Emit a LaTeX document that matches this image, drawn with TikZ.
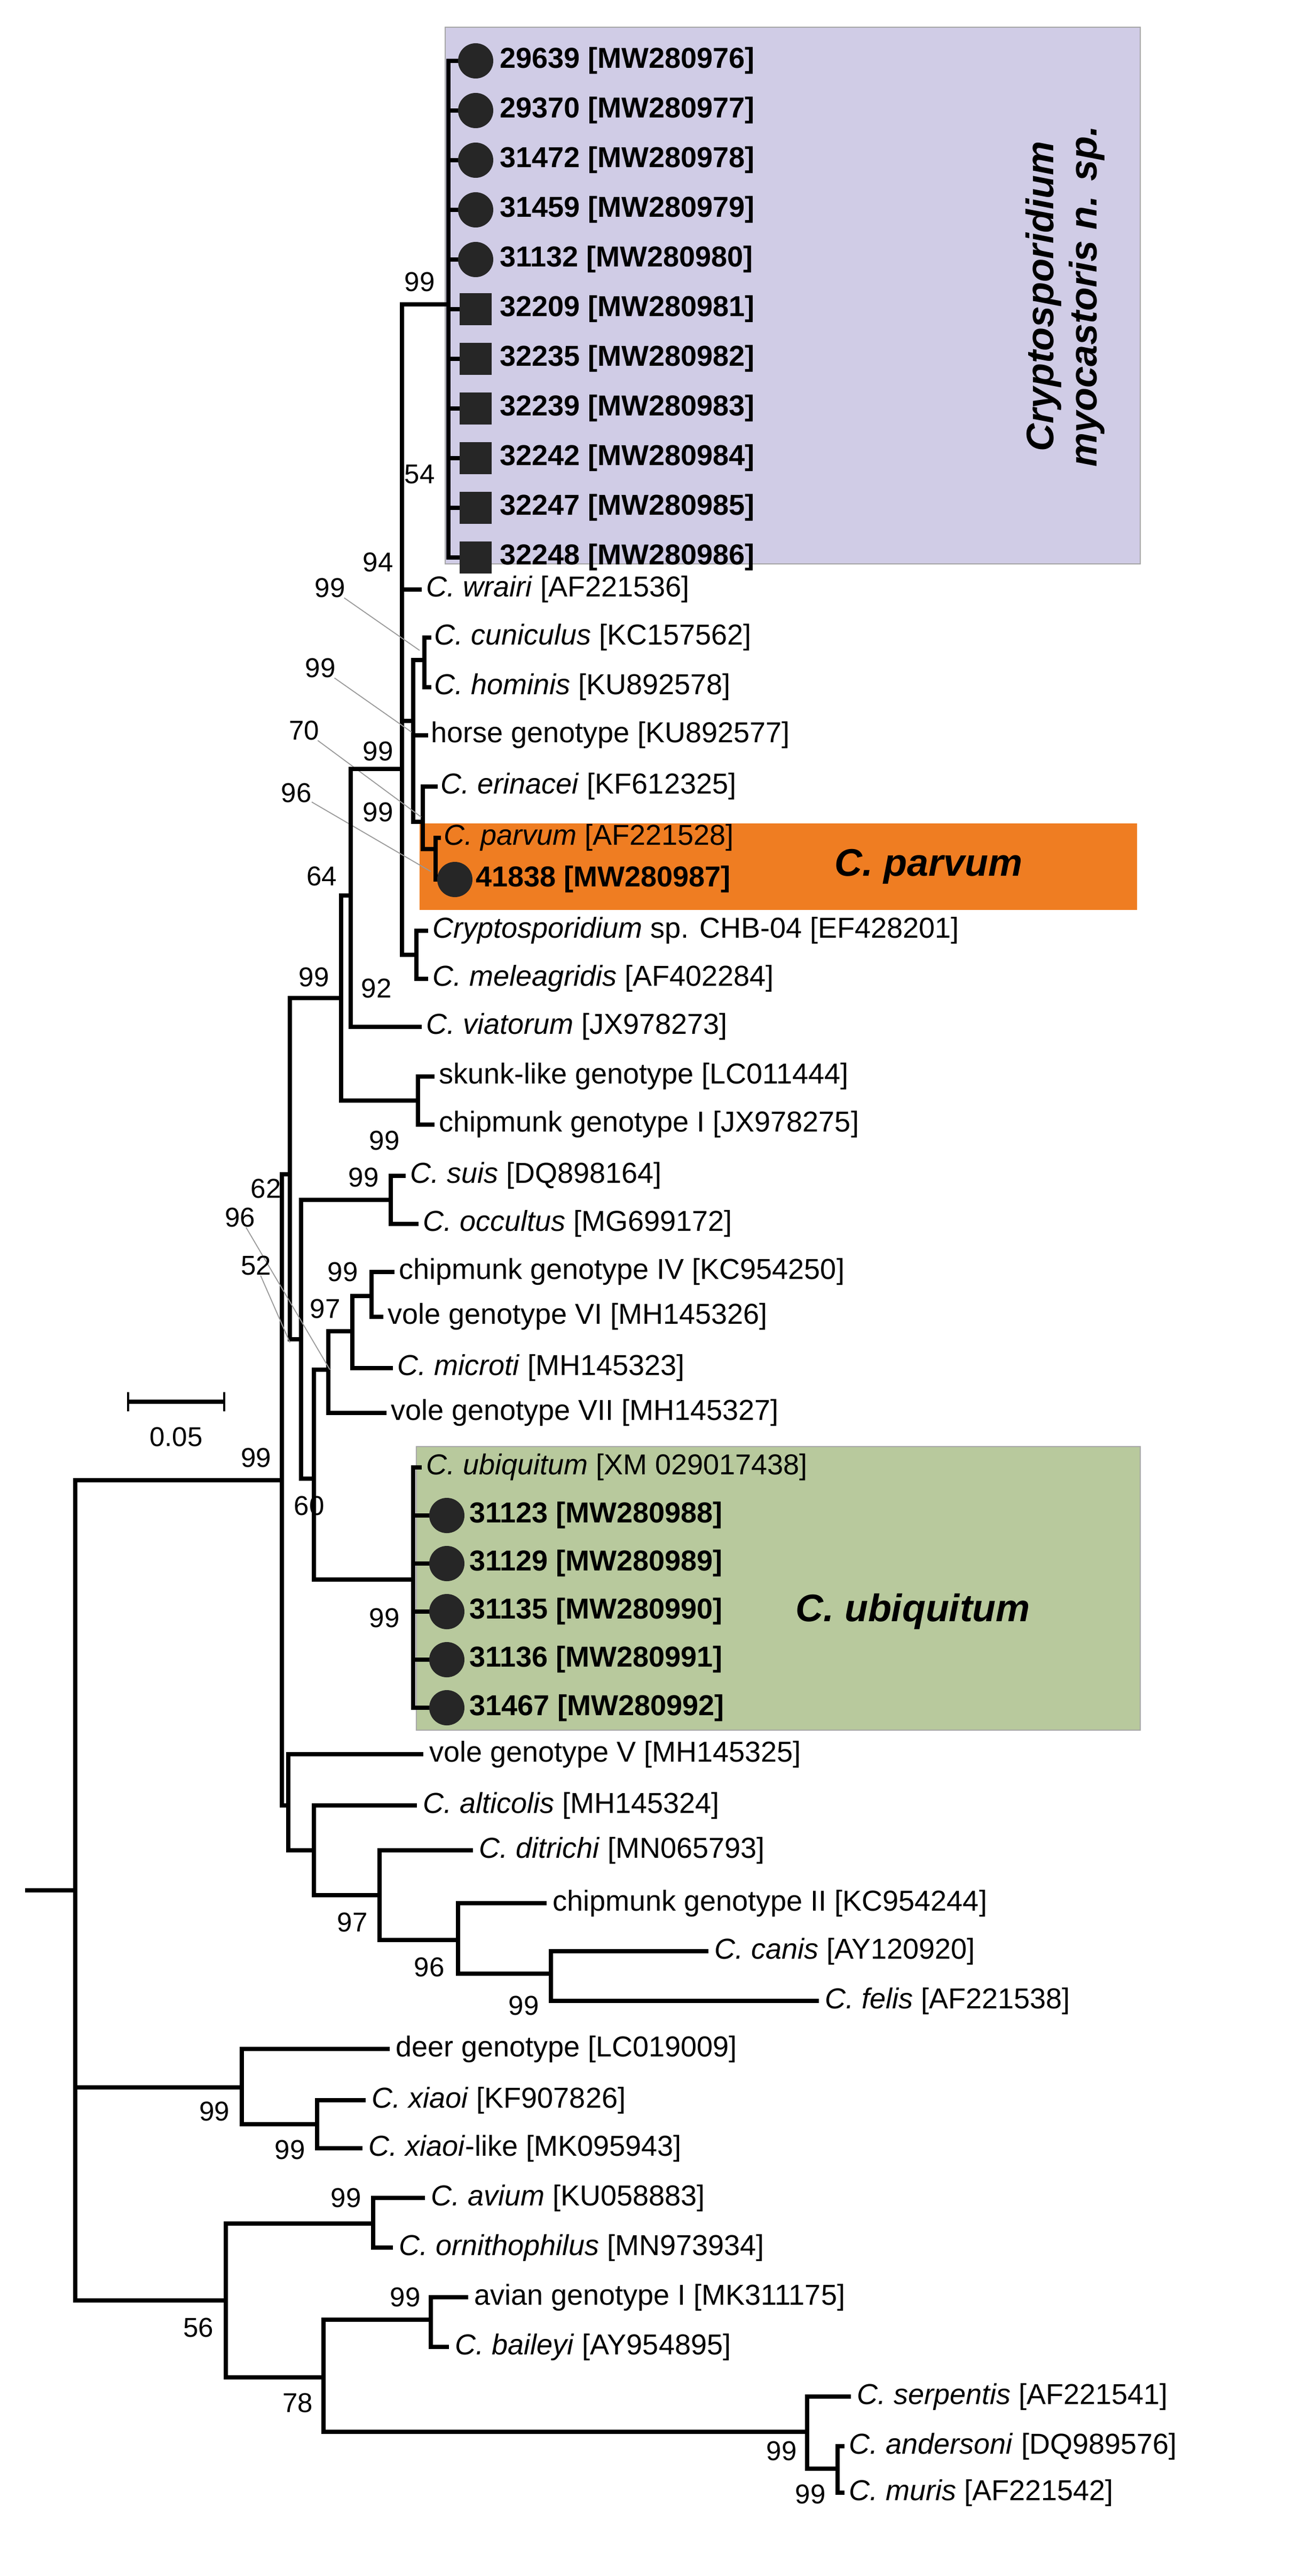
\documentclass[tikz,border=0pt]{standalone}
\usepackage{fontspec}
\setmainfont{Liberation Sans}
\begin{document}
\begin{tikzpicture}[x=1pt,y=-1pt,
  br/.style={line width=2.4pt,line cap=rect},
  lbl/.style={anchor=west,inner sep=0pt,font=\fontsize{18}{20}\selectfont},
  bs/.style={inner sep=0pt,font=\fontsize{17}{19}\selectfont},
  ld/.style={draw=gray!80,line width=0.6pt},
  dot/.style={circle,fill=black!85,minimum size=22pt,inner sep=0pt},
  sq/.style={rectangle,fill=black!85,minimum size=20pt,inner sep=0pt}]
\useasboundingbox (0,0) rectangle (808,1608);
% boxes
\fill[draw=gray!70,fill={rgb,255:red,208;green,204;blue,230}] (278,17) rectangle (712,352);
\fill[fill={rgb,255:red,239;green,125;blue,34}] (262,514) rectangle (710,568);
\fill[draw=gray!70,fill={rgb,255:red,184;green,201;blue,157}] (260,903) rectangle (712,1080);
\node[rotate=90,align=center,font=\fontsize{24}{27}\selectfont\bfseries\itshape] (myo) at (665,185) {Cryptosporidium\\myocastoris n. sp.};
\node[font=\fontsize{24}{27}\selectfont\bfseries\itshape] (cp) at (580,541) {C. parvum};
\node[font=\fontsize{24}{27}\selectfont\bfseries\itshape] (cu) at (570,1006) {C. ubiquitum};
% myocastoris clade
\draw[br] (280,38) -- (280,348);
\foreach \y/\t/\m in {38/29639 [MW280976]/dot,69/29370 [MW280977]/dot,100/31472 [MW280978]/dot,131/31459 [MW280979]/dot,162/31132 [MW280980]/dot,193/32209 [MW280981]/sq,224/32235 [MW280982]/sq,255/32239 [MW280983]/sq,286/32242 [MW280984]/sq,317/32247 [MW280985]/sq,348/32248 [MW280986]/sq}{
  \draw[br] (280,\y) -- (286,\y);
  \node[\m] at (297,\y) {};
  \node[lbl,font=\fontsize{18}{20}\selectfont\bfseries] at (312,\y) {\t};}
\draw[br] (251,190) -- (280,190);
\node[bs] at (262,176) {99};
\draw[br] (251,190) -- (251,596);
\node[bs] at (262,296) {54};
\node[bs] at (236,351) {94};
\draw[br] (251,368) -- (262,368) node[lbl,right=3pt] {\textit{C. wrairi} [AF221536]};
% inner node N
\draw[br] (251,450) -- (258,450);
\draw[br] (258,412) -- (258,513);
\draw[br] (258,412) -- (265,412);
\draw[br] (265,398) -- (265,429);
\draw[br] (265,398) -- (268,398) node[lbl,right=2pt] {\textit{C. cuniculus} [KC157562]};
\draw[br] (265,429) -- (268,429) node[lbl,right=2pt] {\textit{C. hominis} [KU892578]};
\draw[br] (258,459) -- (266,459) node[lbl,right=2pt] {horse genotype [KU892577]};
\draw[br] (258,513) -- (264,513);
\draw[br] (264,491) -- (264,530);
\draw[br] (264,491) -- (272,491) node[lbl,right=2pt] {\textit{C. erinacei} [KF612325]};
\draw[br] (264,530) -- (272,530);
\draw[br] (272,523) -- (272,549);
\draw[br] (272,523) -- (274,523) node[lbl,right=2pt] {\textit{C. parvum} [AF221528]};
\draw[br] (272,549) -- (276,549);
\node[dot] at (284,549) {};
\node[lbl,font=\fontsize{18}{20}\selectfont\bfseries] at (297,549) {41838 [MW280987]};
\node[bs] at (236,469) {99};
\node[bs] at (236,507) {99};
% leader labels
\node[bs] (l1) at (206,367) {99}; \draw[ld] (l1) -- (262,406);
\node[bs] (l2) at (200,417) {99}; \draw[ld] (l2) -- (257,457);
\node[bs] (l3) at (190,456) {70}; \draw[ld] (l3) -- (263,510);
\node[bs] (l4) at (185,495) {96}; \draw[ld] (l4) -- (269,544);
% meleagridis node
\draw[br] (251,596) -- (260,596);
\draw[br] (260,581) -- (260,611);
\draw[br] (260,581) -- (266,581) node[lbl,right=3pt] {\textit{Cryptosporidium} sp. CHB-04 [EF428201]};
\draw[br] (260,611) -- (266,611) node[lbl,right=3pt] {\textit{C. meleagridis} [AF402284]};
\node[bs] at (235,617) {92};
% D and C
\draw[br] (219,480) -- (251,480);
\draw[br] (219,480) -- (219,641);
\node[bs] at (201,547) {64};
\draw[br] (219,641) -- (262,641) node[lbl,right=3pt] {\textit{C. viatorum} [JX978273]};
\draw[br] (213,559) -- (219,559);
\draw[br] (213,559) -- (213,687);
\node[bs] at (196,610) {99};
\draw[br] (213,687) -- (261,687);
\draw[br] (261,672) -- (261,702);
\draw[br] (261,672) -- (270,672) node[lbl,right=3pt] {skunk-like genotype [LC011444]};
\draw[br] (261,702) -- (270,702) node[lbl,right=3pt] {chipmunk genotype I [JX978275]};
\node[bs] at (240,712) {99};
% B
\draw[br] (181,623) -- (213,623);
\draw[br] (181,623) -- (181,836);
\node[bs] at (166,742) {62};
% A
\draw[br] (176,733) -- (181,733);
\draw[br] (176,733) -- (176,1127);
% L
\draw[br] (181,836) -- (188,836);
\draw[br] (188,749) -- (188,923);
\draw[br] (188,749) -- (244,749);
\draw[br] (244,734) -- (244,764);
\draw[br] (244,734) -- (252,734) node[lbl,right=3pt] {\textit{C. suis} [DQ898164]};
\draw[br] (244,764) -- (260,764) node[lbl,right=3pt] {\textit{C. occultus} [MG699172]};
\node[bs] at (227,735) {99};
% K'
\draw[br] (188,923) -- (196,923);
\draw[br] (196,855) -- (196,986);
\node[bs] at (193,940) {60};
\draw[br] (196,855) -- (205,855);
\draw[br] (205,831) -- (205,882);
\draw[br] (205,882) -- (240,882) node[lbl,right=3pt] {vole genotype VII [MH145327]};
\draw[br] (205,831) -- (220,831);
\draw[br] (220,809) -- (220,854);
\draw[br] (220,854) -- (244,854) node[lbl,right=3pt] {\textit{C. microti} [MH145323]};
\draw[br] (220,809) -- (232,809);
\draw[br] (232,794) -- (232,822);
\draw[br] (232,794) -- (245,794) node[lbl,right=3pt] {chipmunk genotype IV [KC954250]};
\draw[br] (232,822) -- (238,822) node[lbl,right=3pt] {vole genotype VI [MH145326]};
\node[bs] at (214,794) {99};
\node[bs] at (203,817) {97};
\node[bs] (l5) at (150,760) {96}; \draw[ld] (l5) -- (206,855);
\node[bs] (l6) at (160,790) {52}; \draw[ld] (l6) -- (181,838);
% ubiquitum
\draw[br] (196,986) -- (258,986);
\draw[br] (258,916) -- (258,1066);
\draw[br] (258,916) -- (262,916) node[lbl,right=3pt] {\textit{C. ubiquitum} [XM 029017438]};
\foreach \y/\t in {946/31123 [MW280988],976/31129 [MW280989],1006/31135 [MW280990],1036/31136 [MW280991],1066/31467 [MW280992]}{
  \draw[br] (258,\y) -- (268,\y);
  \node[dot] at (279,\y) {};
  \node[lbl,font=\fontsize{18}{20}\selectfont\bfseries] at (293,\y) {\t};}
\node[bs] at (240,1010) {99};
% P
\draw[br] (176,1127) -- (180,1127);
\draw[br] (180,1095) -- (180,1155);
\draw[br] (180,1095) -- (263,1095) node[lbl,right=4pt] {vole genotype V [MH145325]};
\draw[br] (180,1155) -- (196,1155);
\draw[br] (196,1127) -- (196,1183);
\draw[br] (196,1127) -- (259,1127) node[lbl,right=4pt] {\textit{C. alticolis} [MH145324]};
\draw[br] (196,1183) -- (237,1183);
\draw[br] (237,1155) -- (237,1211);
\node[bs] at (220,1200) {97};
\draw[br] (237,1155) -- (294,1155) node[lbl,right=4pt] {\textit{C. ditrichi} [MN065793]};
\draw[br] (237,1211) -- (286,1211);
\draw[br] (286,1188) -- (286,1232);
\draw[br] (286,1188) -- (340,1188) node[lbl,right=4pt] {chipmunk genotype II [KC954244]};
\node[bs] at (268,1228) {96};
\draw[br] (286,1232) -- (344,1232);
\draw[br] (344,1218) -- (344,1249);
\draw[br] (344,1218) -- (441,1218) node[lbl,right=4pt] {\textit{C. canis} [AY120920]};
\draw[br] (344,1249) -- (510,1249) node[lbl,right=4pt] {\textit{C. felis} [AF221538]};
\node[bs] at (327,1252) {99};
% root
\draw[br] (17,1180) -- (47,1180);
\draw[br] (47,924) -- (47,1436);
\draw[br] (47,924) -- (176,924);
\node[bs] at (160,910) {99};
% deer
\draw[br] (47,1303) -- (151,1303);
\draw[br] (151,1279) -- (151,1326);
\draw[br] (151,1279) -- (242,1279) node[lbl,right=4pt] {deer genotype [LC019009]};
\node[bs] at (134,1318) {99};
\draw[br] (151,1326) -- (198,1326);
\draw[br] (198,1311) -- (198,1341);
\draw[br] (198,1311) -- (227,1311) node[lbl,right=4pt] {\textit{C. xiaoi} [KF907826]};
\draw[br] (198,1341) -- (225,1341) node[lbl,right=4pt] {\textit{C. xiaoi}-like [MK095943]};
\node[bs] at (181,1342) {99};
% bottom
\draw[br] (47,1436) -- (141,1436);
\node[bs] at (124,1453) {56};
\draw[br] (141,1388) -- (141,1484);
\draw[br] (141,1388) -- (233,1388);
\draw[br] (233,1372) -- (233,1403);
\draw[br] (233,1372) -- (264,1372) node[lbl,right=4pt] {\textit{C. avium} [KU058883]};
\draw[br] (233,1403) -- (244,1403) node[lbl,right=4pt] {\textit{C. ornithophilus} [MN973934]};
\node[bs] at (216,1372) {99};
\draw[br] (141,1484) -- (202,1484);
\draw[br] (202,1448) -- (202,1518);
\node[bs] at (186,1500) {78};
\draw[br] (202,1448) -- (269,1448);
\draw[br] (269,1434) -- (269,1465);
\draw[br] (269,1434) -- (291,1434) node[lbl,right=4pt] {avian genotype I [MK311175]};
\draw[br] (269,1465) -- (279,1465) node[lbl,right=4pt] {\textit{C. baileyi} [AY954895]};
\node[bs] at (253,1434) {99};
\draw[br] (202,1518) -- (504,1518);
\draw[br] (504,1496) -- (504,1541);
\draw[br] (504,1496) -- (530,1496) node[lbl,right=4pt] {\textit{C. serpentis} [AF221541]};
\node[bs] at (488,1530) {99};
\draw[br] (504,1541) -- (523,1541);
\draw[br] (523,1527) -- (523,1556);
\draw[br] (523,1527) -- (526,1527) node[lbl,right=3pt] {\textit{C. andersoni} [DQ989576]};
\draw[br] (523,1556) -- (526,1556) node[lbl,right=3pt] {\textit{C. muris} [AF221542]};
\node[bs] at (506,1557) {99};
% scale
\draw[br,line cap=butt] (80,875) -- (140,875);
\draw[line width=1.5pt] (80,869) -- (80,881) (140,869) -- (140,881);
\node[bs] at (110,897) {0.05};
\end{tikzpicture}
\end{document}
